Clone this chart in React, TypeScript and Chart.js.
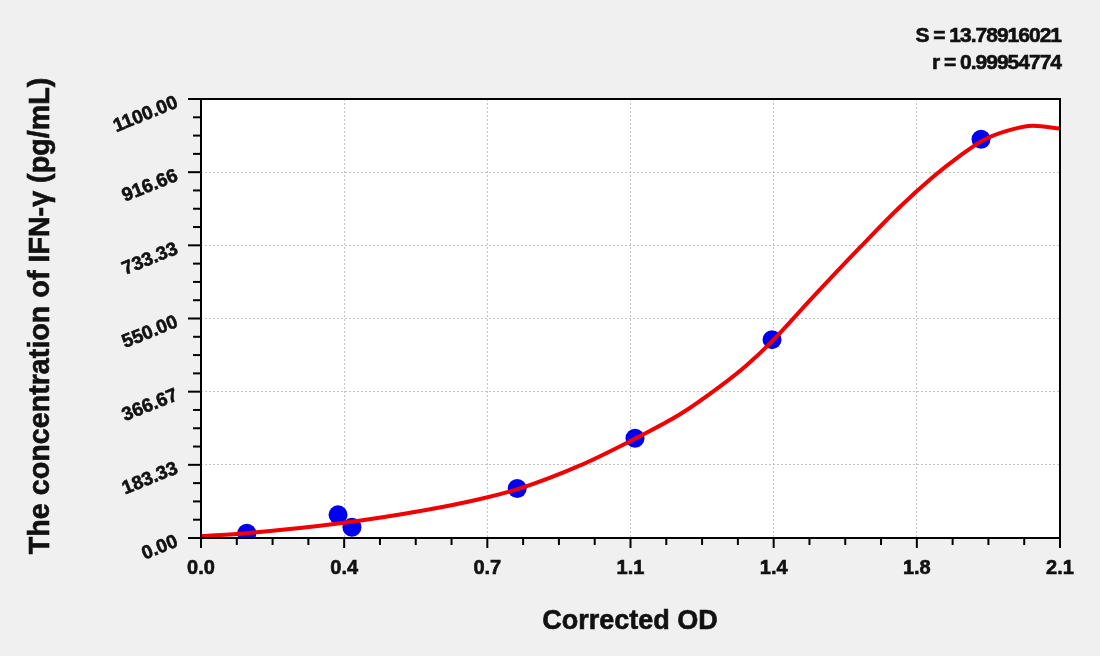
import { useEffect, useRef } from 'react'
import { Chart, registerables } from 'chart.js'

Chart.register(...registerables)

// standards (corrected OD vs concentration)
const stdOD = [0.112, 0.335, 0.369, 0.773, 1.061, 1.396, 1.907]
const stdConc = [12, 58, 27, 124, 250, 497, 999]

// fitted curve
const curveOD = [0, 0.11, 0.35, 0.55, 0.68, 0.776, 0.927, 1.061, 1.171, 1.269, 1.334, 1.399, 1.489, 1.611, 1.709, 1.79, 1.856, 1.909, 1.97, 2.035, 2.1]
const curveConc = [5, 12, 38, 70, 97, 123, 182, 249, 310, 380, 433, 496, 596, 728, 830, 905, 958, 995, 1020, 1033, 1026]

const xTickLabels = ['0.0', '0.4', '0.7', '1.1', '1.4', '1.8', '2.1']
const yTickLabels = ['0.00', '183.33', '366.67', '550.00', '733.33', '916.66', '1100.00']
const statLines = ['S = 13.78916021', 'r = 0.99954774']

const X_MAX = 2.1
const Y_MAX = 1100
const MINOR = 4
const FONT = '"Liberation Sans", Arial, sans-serif'

// bold text with a hairline stroke so it reads as heavy as the original
const heavyText = (ctx: any, s: string, x: number, y: number) => {
  ctx.fillText(s, x, y)
  ctx.strokeText(s, x, y)
}

const decor: any = {
  id: 'decor',
  beforeDraw(chart: any) {
    const { ctx, chartArea: a, width, height } = chart
    ctx.save()
    ctx.fillStyle = '#f0f0f0'
    ctx.fillRect(0, 0, width, height)
    ctx.fillStyle = '#ffffff'
    ctx.fillRect(a.left, a.top, a.right - a.left, a.bottom - a.top)
    ctx.restore()
  },
  afterDraw(chart: any) {
    const { ctx, chartArea: a, scales } = chart
    const xs = scales.x
    const ys = scales.y
    ctx.save()
    ctx.strokeStyle = '#000'
    ctx.lineWidth = 2
    ctx.strokeRect(a.left, a.top, a.right - a.left, a.bottom - a.top)

    // tick marks
    xs.ticks.forEach((t: any, i: number) => {
      const px = xs.getPixelForValue(t.value)
      const len = i % MINOR === 0 ? 10 : 7
      ctx.beginPath()
      ctx.moveTo(px, a.bottom)
      ctx.lineTo(px, a.bottom + len)
      ctx.stroke()
    })
    ys.ticks.forEach((t: any, i: number) => {
      const py = ys.getPixelForValue(t.value)
      const len = i % MINOR === 0 ? 13 : 8
      ctx.beginPath()
      ctx.moveTo(a.left, py)
      ctx.lineTo(a.left - len, py)
      ctx.stroke()
    })

    ctx.fillStyle = '#111'
    ctx.strokeStyle = '#111'
    ctx.lineWidth = 0.6
    // x tick labels
    ctx.font = `bold 20px ${FONT}`
    ctx.textAlign = 'center'
    ctx.textBaseline = 'middle'
    xs.ticks.forEach((t: any, i: number) => {
      if (i % MINOR !== 0) return
      heavyText(ctx, xTickLabels[i / MINOR], xs.getPixelForValue(t.value), 568)
    })
    // y tick labels, tilted
    ctx.font = `bold 19px ${FONT}`
    ctx.textAlign = 'right'
    ys.ticks.forEach((t: any, i: number) => {
      if (i % MINOR !== 0) return
      const py = ys.getPixelForValue(t.value)
      ctx.save()
      ctx.translate(177, py + 3)
      ctx.rotate((-22 * Math.PI) / 180)
      heavyText(ctx, yTickLabels[i / MINOR], 0, 0)
      ctx.restore()
    })

    // axis titles
    ctx.font = `bold 27px ${FONT}`
    ctx.textAlign = 'center'
    heavyText(ctx, 'Corrected OD', 630, 622)
    ctx.save()
    ctx.translate(41, 316)
    ctx.rotate(-Math.PI / 2)
    ctx.font = `bold 28.7px ${FONT}`
    heavyText(ctx, 'The concentration of IFN-γ (pg/mL)', 0, 0)
    ctx.restore()

    // fit statistics
    ctx.font = `bold 21px ${FONT}`
    ctx.letterSpacing = '-1px'
    ctx.textAlign = 'right'
    heavyText(ctx, statLines[0], 1061, 36)
    heavyText(ctx, statLines[1], 1061, 63)
    ctx.restore()
  },
}

const gridColor = (ctx: any, max: number) => {
  const v = ctx.tick?.value ?? 0
  const major = ctx.index % MINOR === 0
  return major && v > 0 && v < max - 1e-9 ? '#c4c4c4' : 'rgba(0,0,0,0)'
}

export default function App() {
  const canvasRef = useRef<HTMLCanvasElement>(null)

  useEffect(() => {
    document.body.style.margin = '0'
    if (!canvasRef.current) return

    const curve = curveOD.map((x, i) => ({ x, y: curveConc[i] }))
    const points = stdOD.map((x, i) => ({ x, y: stdConc[i] }))

    const chart = new Chart(canvasRef.current, {
      type: 'scatter',
      data: {
        datasets: [
          {
            label: 'fit',
            data: curve,
            showLine: true,
            borderColor: '#f00000',
            borderWidth: 4,
            pointRadius: 0,
            cubicInterpolationMode: 'monotone',
          },
          {
            label: 'standards',
            data: points,
            backgroundColor: '#0000f0',
            borderColor: '#0000f0',
            pointRadius: 9.5,
            borderWidth: 0,
          },
        ],
      } as any,
      plugins: [decor],
      options: {
        animation: false,
        responsive: false,
        devicePixelRatio: 1,
        layout: { padding: { top: 99, right: 40, left: 0, bottom: 0 } },
        plugins: { legend: { display: false }, tooltip: { enabled: false } },
        scales: {
          x: {
            type: 'linear',
            min: 0,
            max: X_MAX,
            afterBuildTicks: (s: any) => {
              s.ticks = Array.from({ length: 6 * MINOR + 1 }, (_, i) => ({ value: (i * X_MAX) / (6 * MINOR) }))
            },
            afterFit: (s: any) => { s.height = 118 },
            ticks: { display: false },
            border: { display: false, dash: [2, 2] },
            grid: { drawTicks: false, lineWidth: 1, color: (c: any) => gridColor(c, X_MAX) },
          },
          y: {
            type: 'linear',
            min: 0,
            max: Y_MAX,
            afterBuildTicks: (s: any) => {
              s.ticks = Array.from({ length: 6 * MINOR + 1 }, (_, i) => ({ value: (i * Y_MAX) / (6 * MINOR) }))
            },
            afterFit: (s: any) => { s.width = 201 },
            ticks: { display: false },
            border: { display: false, dash: [2, 2] },
            grid: { drawTicks: false, lineWidth: 1, color: (c: any) => gridColor(c, Y_MAX) },
          },
        },
      } as any,
    })

    return () => chart.destroy()
  }, [])

  return (
    <div style={{ width: 1100, height: 656 }}>
      <canvas ref={canvasRef} width={1100} height={656} />
    </div>
  )
}
